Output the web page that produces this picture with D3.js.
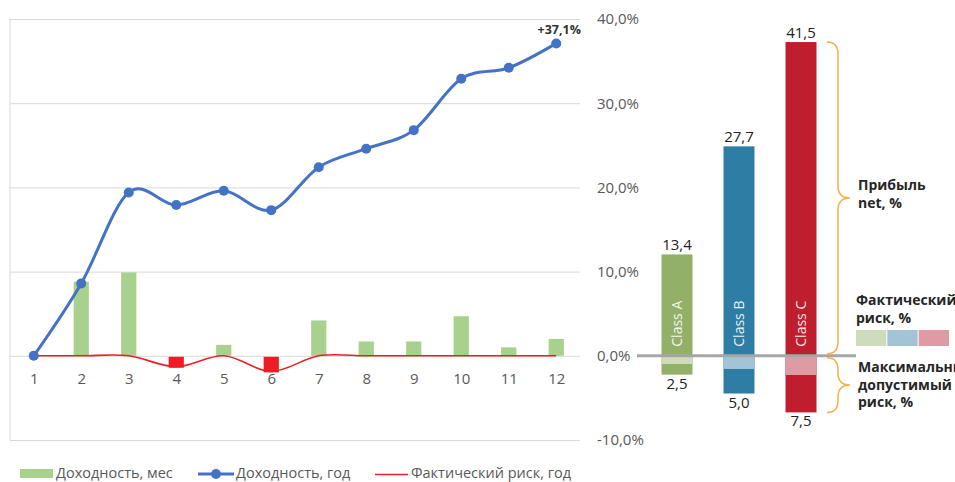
<!DOCTYPE html>
<html>
<head>
<meta charset="utf-8">
<script src="https://cdn.jsdelivr.net/npm/d3@7"></script>
<style>
  body { margin: 0; background: #fff; }
  svg { display: block; font-family: "Open Sans", sans-serif; }
</style>
</head>
<body>
<svg width="955" height="482"></svg>
<script>
// data
const months = [1, 2, 3, 4, 5, 6, 7, 8, 9, 10, 11, 12];
const monthlyReturn = [0, 8.8, 9.9, -1.3, 1.3, -1.85, 4.2, 1.7, 1.7, 4.7, 1.0, 2.0];
const yearlyReturn = [0, 8.6, 19.4, 17.9, 19.6, 17.3, 22.4, 24.6, 26.8, 32.9, 34.2, 37.1];
const actualRiskYear = [0, 0, 0, -1.3, 0, -1.85, 0, 0, 0, 0, 0, 0];
const yTicks = [-10, 0, 10, 20, 30, 40];

const classes = ["Class A", "Class B", "Class C"];
const classProfit = [13.4, 27.7, 41.5];
const classMaxRisk = [2.5, 5.0, 7.5];
const classActualRisk = [1.1, 1.75, 2.55];
const classColors = ["#93b069", "#2e7da4", "#be1e2e"];
const classLight = ["#cfdcbb", "#a3c4d5", "#e09aa3"];

const legendItems = ["Доходность, мес", "Доходность, год", "Фактический риск, год"];

const svg = d3.select("svg");

// left chart scales
const x = d3.scalePoint().domain(months).range([10, 580]).padding(0.5);
const y = d3.scaleLinear().domain([-10, 40]).range([440, 19]);

// right chart has its own units, zero shared with the left axis
const ry = d3.scaleLinear().domain([-11.15, 44.55]).range([440, 19]);
const rx = d3.scaleBand().domain(classes).range([646, 832]).paddingInner(0.5).paddingOuter(0.25);

const fmt = d => d.toFixed(1).replace(".", ",");

// gridlines + left frame
const grid = svg.append("g")
  .attr("transform", "translate(10,0)")
  .call(d3.axisLeft(y).tickValues(yTicks).tickSize(-570).tickFormat(""));
grid.selectAll("line").attr("stroke", "#d9d9d9");
grid.select(".domain").attr("stroke", "#d9d9d9").attr("d", "M0," + y(40) + "V" + y(-10));

// right axis labels
const yr = svg.append("g")
  .attr("transform", "translate(580,0)")
  .call(d3.axisRight(y).tickValues(yTicks).tickSize(0).tickPadding(17)
    .tickFormat(d => fmt(d) + "%"));
yr.select(".domain").remove();
yr.selectAll("text").attr("fill", "#595959").attr("font-size", "15px")
  .attr("font-family", "Open Sans");

// x axis labels
const xa = svg.append("g")
  .attr("transform", "translate(0," + y(0) + ")")
  .call(d3.axisBottom(x).tickSize(0).tickPadding(18));
xa.select(".domain").remove();
xa.selectAll("text").attr("fill", "#595959").attr("font-size", "15px")
  .attr("font-family", "Open Sans");

// monthly bars
const bw = x.step() * 0.32;
svg.append("g").selectAll("rect")
  .data(monthlyReturn)
  .join("rect")
  .attr("x", (d, i) => x(months[i]) - bw / 2)
  .attr("y", d => d >= 0 ? y(d) : y(0) + 1)
  .attr("width", bw)
  .attr("height", d => Math.abs(y(d) - y(0)))
  .attr("fill", d => d >= 0 ? "#a9d18e" : "#ee1d23");

// actual risk line
const curve = d3.curveCatmullRom.alpha(0);
svg.append("path")
  .datum(actualRiskYear)
  .attr("fill", "none")
  .attr("stroke", "#ee1d23")
  .attr("stroke-width", 1.6)
  .attr("d", d3.line().x((d, i) => x(months[i])).y(d => y(d)).curve(curve));

// yearly return line
svg.append("path")
  .datum(yearlyReturn)
  .attr("fill", "none")
  .attr("stroke", "#4472c4")
  .attr("stroke-width", 3)
  .attr("d", d3.line().x((d, i) => x(months[i])).y(d => y(d)).curve(curve));

svg.append("g").selectAll("circle")
  .data(yearlyReturn)
  .join("circle")
  .attr("cx", (d, i) => x(months[i]))
  .attr("cy", d => y(d))
  .attr("r", 5)
  .attr("fill", "#4472c4");

const last = yearlyReturn[yearlyReturn.length - 1];
svg.append("text")
  .attr("x", x(12) + 3)
  .attr("y", y(last) - 9)
  .attr("text-anchor", "middle")
  .attr("font-size", "12.5px")
  .attr("font-weight", "bold")
  .attr("fill", "#333")
  .text("+" + fmt(last) + "%");

// right chart: class bars
const cb = svg.append("g");
classes.forEach((c, i) => {
  cb.append("rect")
    .attr("x", rx(c)).attr("width", rx.bandwidth())
    .attr("y", ry(classProfit[i]))
    .attr("height", ry(-classMaxRisk[i]) - ry(classProfit[i]))
    .attr("fill", classColors[i]);
  cb.append("rect")
    .attr("x", rx(c)).attr("width", rx.bandwidth())
    .attr("y", ry(0))
    .attr("height", ry(-classActualRisk[i]) - ry(0))
    .attr("fill", classLight[i]);
  cb.append("text")
    .attr("x", rx(c) + rx.bandwidth() / 2)
    .attr("y", ry(classProfit[i]) - 4)
    .attr("text-anchor", "middle")
    .attr("font-size", "15px")
    .attr("fill", "#222")
    .text(fmt(classProfit[i]));
  cb.append("text")
    .attr("x", rx(c) + rx.bandwidth() / 2)
    .attr("y", ry(-classMaxRisk[i]) + 14)
    .attr("text-anchor", "middle")
    .attr("font-size", "15px")
    .attr("fill", "#222")
    .text(fmt(classMaxRisk[i]));
  cb.append("text")
    .attr("transform", "translate(" + (rx(c) + rx.bandwidth() / 2 + 5) + "," + (ry(0) - 9) + ") rotate(-90)")
    .attr("font-size", "14px")
    .attr("fill", "#fff")
    .attr("fill-opacity", 0.9)
    .text(c);
});

// zero line for the right chart
svg.append("line")
  .attr("x1", 637).attr("x2", 856)
  .attr("y1", ry(0)).attr("y2", ry(0))
  .attr("stroke", "#a6a6a6")
  .attr("stroke-width", 3);

// braces
function brace(x0, y1, y2) {
  const p = d3.path(), ym = (y1 + y2) / 2, r = Math.min(12, (y2 - y1) / 4), xv = x0 + 11;
  p.moveTo(x0, y1);
  p.quadraticCurveTo(xv, y1, xv, y1 + r);
  p.lineTo(xv, ym - r);
  p.quadraticCurveTo(xv, ym, x0 + 23, ym);
  p.quadraticCurveTo(xv, ym, xv, ym + r);
  p.lineTo(xv, y2 - r);
  p.quadraticCurveTo(xv, y2, x0, y2);
  return p.toString();
}
const maxProfit = d3.max(classProfit), maxRisk = d3.max(classMaxRisk);
svg.append("path").attr("d", brace(827, ry(maxProfit), ry(0) - 2))
  .attr("fill", "none").attr("stroke", "#f5b04c").attr("stroke-width", 1.5);
svg.append("path").attr("d", brace(827, ry(0) + 2, ry(-maxRisk)))
  .attr("fill", "none").attr("stroke", "#f5b04c").attr("stroke-width", 1.5);

// side annotations
function note(lines, x0, y0) {
  const t = svg.append("text").attr("font-size", "14px").attr("font-weight", "bold").attr("fill", "#262626");
  lines.forEach((l, i) => t.append("tspan").attr("x", x0).attr("y", y0 + i * 17.5).text(l));
}
note(["Прибыль", "net, %"], 858, 190);
note(["Фактический", "риск, %"], 856, 305);
note(["Максимальный", "допустимый", "риск, %"], 858, 372);

// actual risk swatches
const sw = (950 - 856) / 3;
svg.append("g").selectAll("rect")
  .data(classLight)
  .join("rect")
  .attr("x", (d, i) => 856 + i * sw)
  .attr("y", 330)
  .attr("width", sw - 1)
  .attr("height", 16)
  .attr("fill", d => d);

// bottom legend
const lg = svg.append("g").attr("font-size", "14.5px").attr("fill", "#595959");
lg.append("rect").attr("x", 20).attr("y", 469).attr("width", 33).attr("height", 9).attr("fill", "#a9d18e");
lg.append("text").attr("x", 56).attr("y", 478).text(legendItems[0]);
lg.append("line").attr("x1", 198).attr("x2", 234).attr("y1", 474).attr("y2", 474)
  .attr("stroke", "#4472c4").attr("stroke-width", 3);
lg.append("circle").attr("cx", 216).attr("cy", 474).attr("r", 5).attr("fill", "#4472c4");
lg.append("text").attr("x", 236).attr("y", 478).text(legendItems[1]);
lg.append("line").attr("x1", 375).attr("x2", 408).attr("y1", 474.5).attr("y2", 474.5)
  .attr("stroke", "#ee1d23").attr("stroke-width", 1.6);
lg.append("text").attr("x", 411).attr("y", 478).text(legendItems[2]);
</script>
</body>
</html>
